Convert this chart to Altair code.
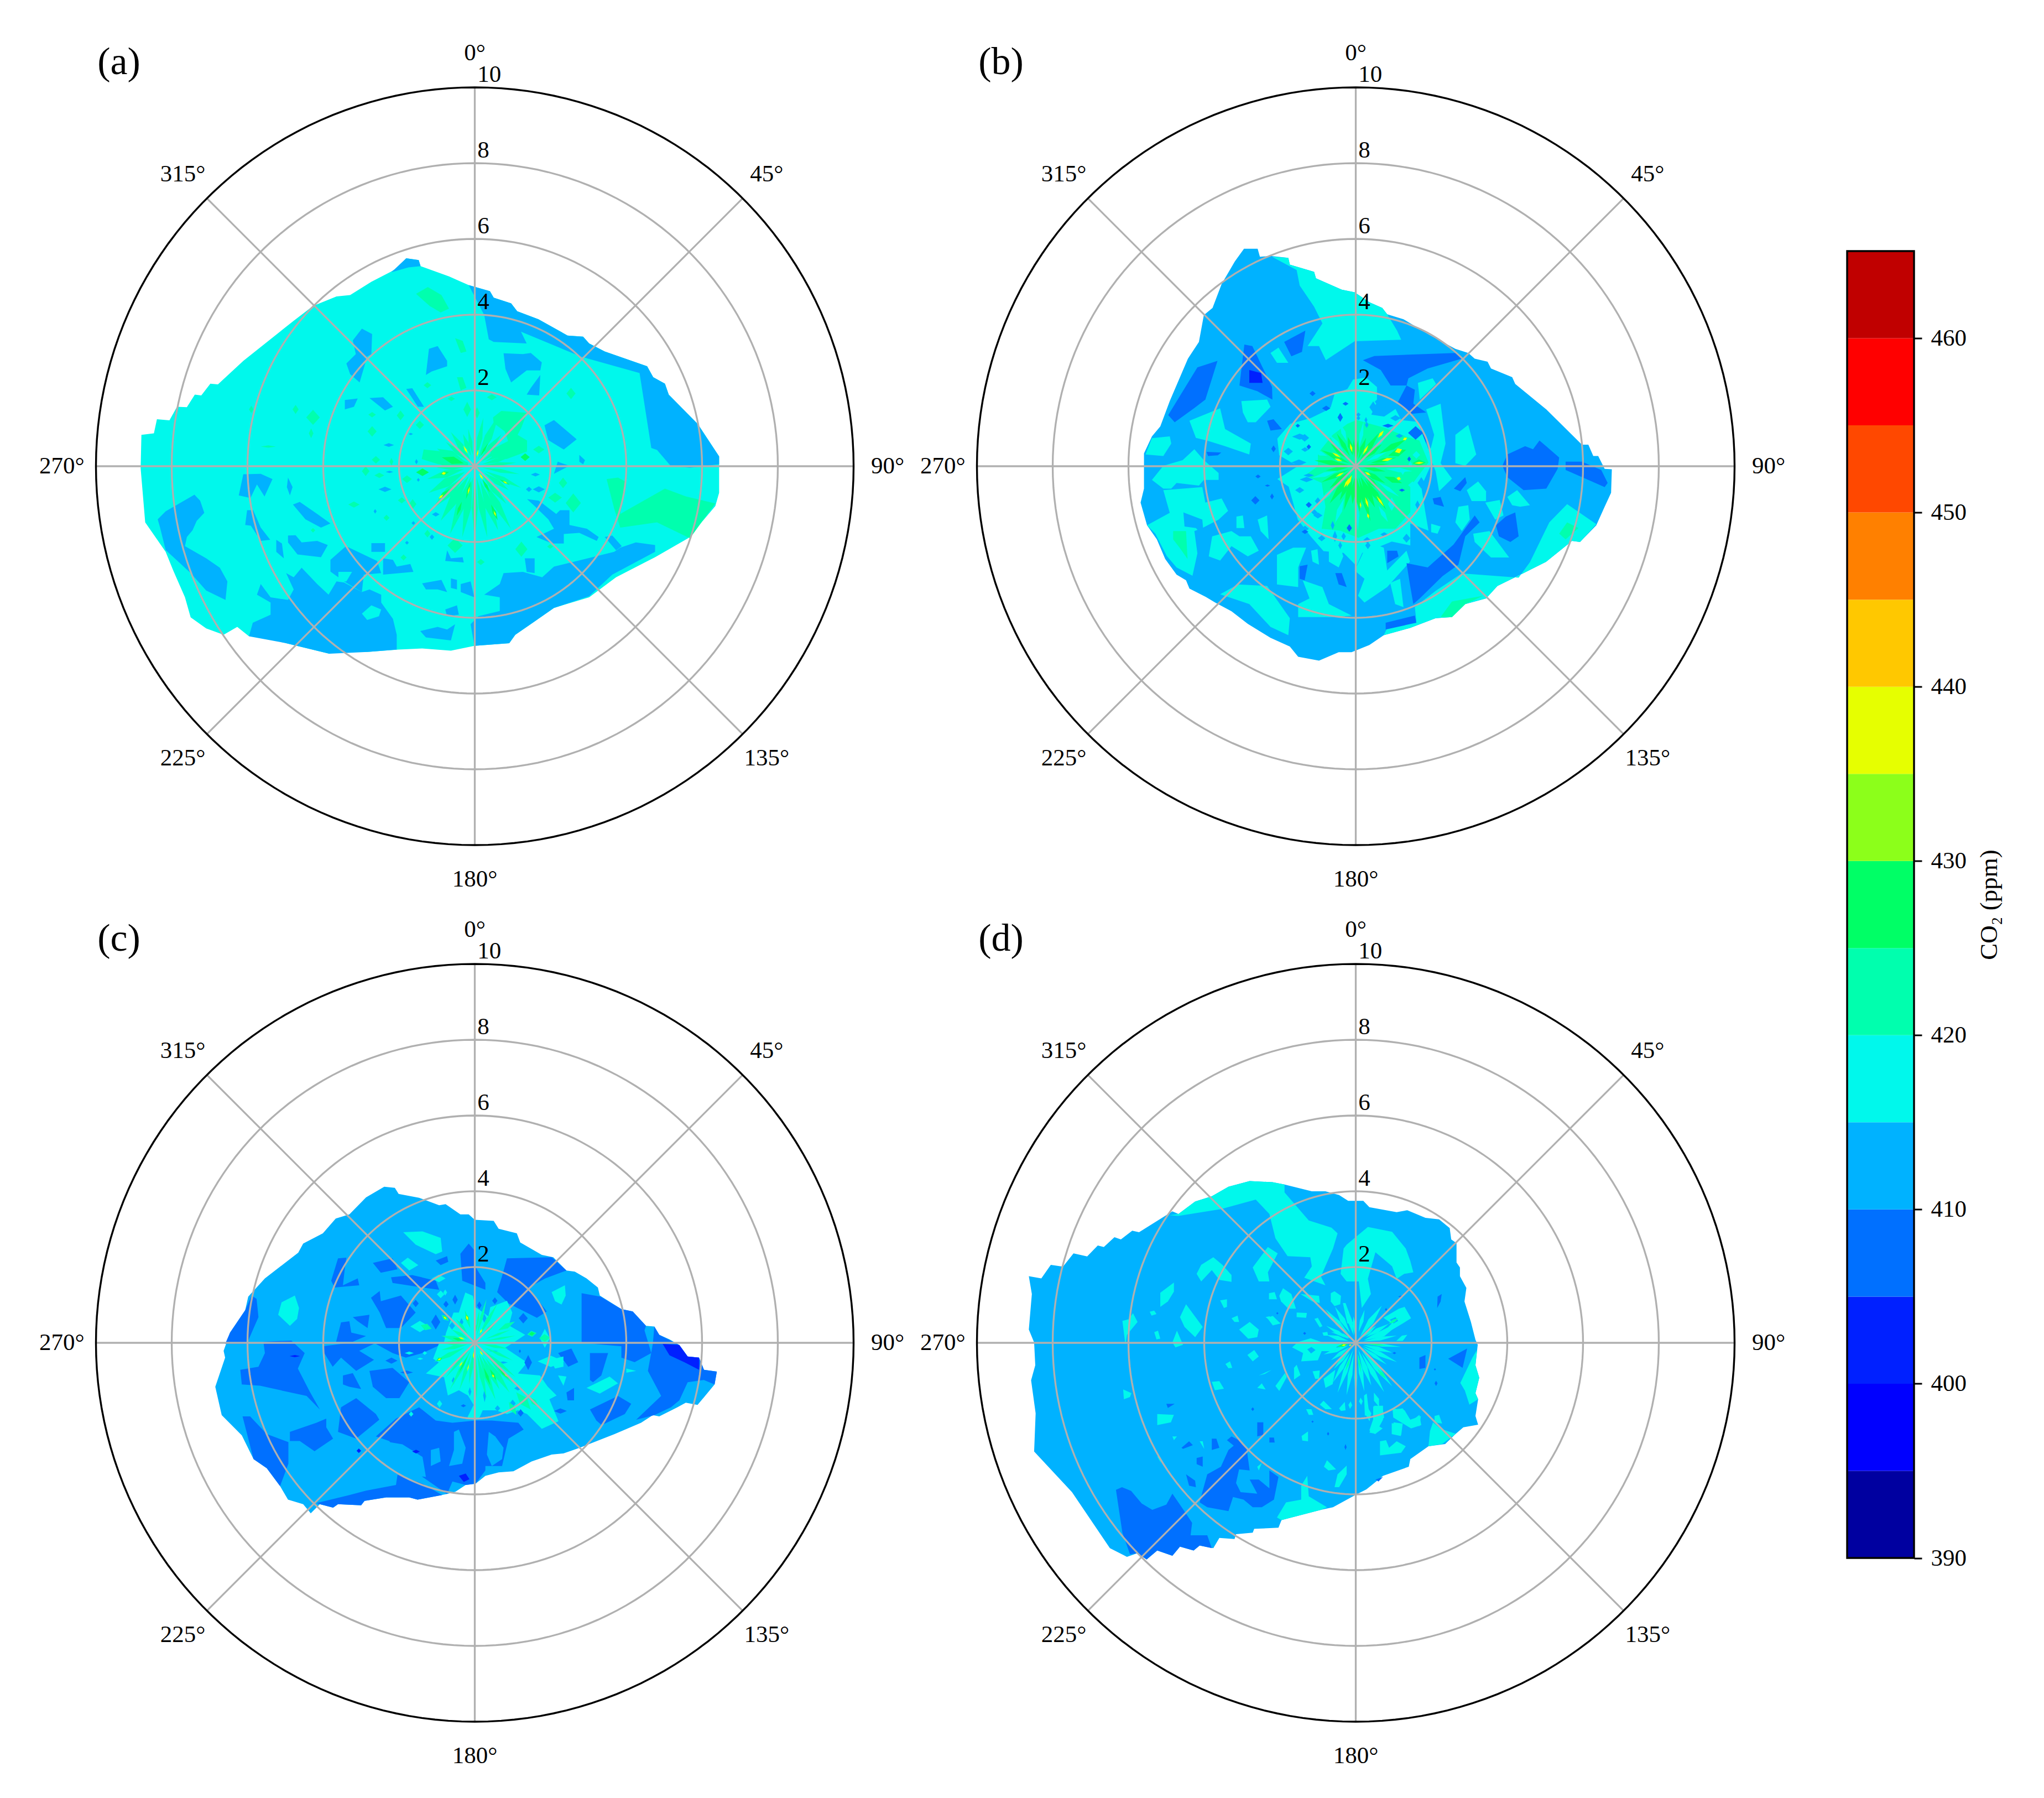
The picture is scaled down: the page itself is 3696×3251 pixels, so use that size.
import math
import altair as alt
import pandas as pd

LEVELS = [390, 395, 400, 405, 410, 415, 420, 425, 430, 435, 440, 445, 450, 455, 460]
COLORS = ["#0000A0", "#0000FF", "#0020FF", "#0070FF", "#00B2FF", "#00F8EC", "#00FFAE", "#00FF66",
          "#8CFF1A", "#E6FF00", "#FFC800", "#FF8000", "#FF4800", "#FF0000", "#C00000"]
CBAR_TICKS = [390, 400, 410, 420, 430, 440, 450, 460]
RINGS = [2, 4, 6, 8]
SPOKES = [0, 45, 90, 135, 180, 225, 270, 315]
FONT = "Liberation Serif"

# ---------- panel (a) ----------
A_OUT = [(-1.81,5.49),(-1.48,5.44),(-1.43,5.28),(-0.68,5.01),(-0.16,4.78),(0.40,4.62),(0.50,4.45),(0.96,4.30),(1.12,4.09),(1.68,3.88),(2.45,3.45),(2.86,3.42),(3.02,3.24),(3.43,3.03),(4.55,2.64),(4.71,2.35),(5.02,2.18),(5.12,1.89),(5.89,1.11),(6.45,0.26),(6.45,-0.70),(6.35,-1.05),(5.63,-1.90),(4.76,-2.40),(3.73,-2.93),(3.02,-3.46),(2.09,-3.74),(1.53,-4.13),(1.07,-4.45),(0.91,-4.67),(-0.01,-4.74),(-0.63,-4.87),(-1.39,-4.81),(-2.01,-4.84),(-2.83,-4.90),(-3.81,-4.88),(-3.84,-4.95),(-4.98,-4.67),(-5.81,-4.38),(-5.96,-4.49),(-6.27,-4.24),(-6.63,-4.45),(-7.09,-4.28),(-7.50,-3.99),(-7.65,-3.46),(-7.96,-2.75),(-8.16,-2.26),(-8.70,-1.48),(-8.82,-0.06),(-8.80,0.83),(-8.47,0.87),(-8.39,1.24),(-8.06,1.21),(-7.86,1.57),(-7.60,1.56),(-7.39,1.89),(-7.22,1.87),(-6.98,2.18),(-6.78,2.16),(-6.11,2.78),(-4.78,3.84),(-4.27,4.23),(-3.65,4.48),(-3.29,4.52),(-2.73,4.87),(-2.22,5.13),(-2.01,5.26)]
A_PATCHES = [
 (410,[(-0.16,4.78),(0.40,4.62),(0.50,4.45),(0.96,4.30),(1.12,4.09),(1.68,3.88),(2.45,3.45),(2.86,3.42),(3.02,3.24),(3.43,3.03),(4.55,2.64),(4.71,2.35),(5.02,2.18),(5.12,1.89),(5.89,1.11),(6.45,0.26),(6.45,0.05),(5.68,-0.04),(5.17,0.01),(4.81,0.43),(4.66,0.48),(4.35,2.46),(2.81,2.89),(1.22,3.55),(1.37,3.24),(0.50,3.28),(0.37,3.35),(0.25,3.99)]),
 (410,[(-1.81,5.49),(-1.48,5.44),(-1.43,5.28),(-1.75,5.25),(-2.2,5.12)]),
 (410,[(4.76,-2.08),(4.25,-2.01),(3.84,-2.15),(3.68,-2.26),(2.09,-2.65),(1.78,-2.93),(1.27,-2.79),(0.76,-2.82),(0.66,-3.11),(0.25,-3.39),(0.66,-3.46),(0.66,-3.82),(0.09,-3.96),(-0.11,-4.17),(-0.01,-4.74),(0.91,-4.67),(1.07,-4.45),(1.53,-4.13),(2.09,-3.74),(3.02,-3.43),(3.63,-2.86),(4.76,-2.26)]),
 (410,[(-5.96,-4.49),(-4.98,-4.67),(-3.84,-4.95),(-2.83,-4.90),(-2.06,-4.84),(-2.06,-4.45),(-2.16,-4.03),(-2.47,-3.60),(-2.47,-3.39),(-2.78,-3.25),(-2.98,-3.32),(-3.45,-3.07),(-3.65,-3.04),(-3.86,-3.39),(-4.16,-3.11),(-4.57,-2.68),(-4.78,-2.93),(-4.98,-2.82),(-4.78,-3.25),(-4.93,-3.53),(-5.39,-3.46),(-5.65,-3.11),(-5.75,-3.39),(-5.39,-3.60),(-5.39,-3.92),(-5.86,-4.13)]),
 (410,[(-3.81,-2.47),(-3.40,-2.11),(-2.58,-2.50),(-2.47,-2.82),(-2.93,-2.86),(-2.98,-3.32),(-3.45,-3.04),(-3.81,-2.78)]),
 (415,[(-3.60,-2.79),(-3.24,-2.79),(-3.39,-3.04),(-3.60,-3.04)]),
 (415,[(-2.98,-3.89),(-2.73,-3.67),(-2.47,-3.78),(-2.53,-3.96),(-2.84,-4.06)]),
 (410,[(-7.40,-0.75),(-7.25,-0.91),(-7.14,-1.23),(-7.34,-1.44),(-7.45,-1.69),(-7.60,-1.87),(-7.65,-2.11),(-7.09,-2.43),(-6.73,-2.68),(-6.53,-3.04),(-6.58,-3.53),(-7.09,-3.28),(-7.50,-2.82),(-8.16,-2.21),(-8.31,-1.61),(-8.37,-1.40),(-8.16,-1.19)]),
 (410,[(-6.11,-0.21),(-5.65,-0.20),(-5.34,-0.34),(-5.55,-0.80),(-5.75,-0.48),(-5.92,-0.84),(-6.23,-0.77)]),
 (410,[(-6.01,-1.16),(-5.85,-1.16),(-5.65,-1.62),(-5.40,-1.94),(-5.65,-1.97),(-5.91,-1.57),(-6.06,-1.55)]),
 (410,[(-4.80,-1.01),(-4.62,-0.94),(-4.16,-1.26),(-3.81,-1.51),(-4.06,-1.62),(-4.47,-1.40)]),
 (410,[(-4.93,-1.83),(-4.73,-1.82),(-4.57,-2.01),(-4.16,-1.97),(-3.88,-2.08),(-4.06,-2.40),(-4.68,-2.33),(-4.93,-2.01)]),
 (410,[(-5.24,-1.94),(-5.09,-2.04),(-5.04,-2.43),(-5.24,-2.26)]),
 (410,[(-4.93,-0.30),(-4.81,-0.55),(-4.88,-0.77),(-4.96,-0.55)]),
 (410,[(-2.42,-2.43),(-2.16,-2.47),(-2.06,-2.65),(-1.70,-2.58),(-1.62,-2.79),(-2.42,-2.86)]),
 (410,[(-2.73,-2.03),(-2.37,-2.03),(-2.37,-2.26),(-2.73,-2.26)]),
 (410,[(-1.39,-3.09),(-0.88,-3.00),(-0.73,-3.32),(-0.98,-3.25),(-1.29,-3.25)]),
 (410,[(-0.63,-2.96),(-0.47,-3.00),(-0.47,-3.25),(-0.63,-3.21)]),
 (410,[(-0.37,-3.11),(-0.11,-3.04),(-0.01,-3.46),(-0.37,-3.32)]),
 (410,[(-1.44,-4.35),(-0.98,-4.24),(-0.73,-4.31),(-0.52,-4.17),(-0.63,-4.60),(-1.29,-4.52)]),
 (410,[(-0.78,-3.78),(-0.47,-3.67),(-0.42,-3.92),(-0.73,-3.96)]),
 (410,[(1.32,-2.43),(1.58,-2.43),(1.58,-2.82),(1.37,-2.79)]),
 (410,[(-0.73,-2.22),(-0.63,-2.43),(-0.32,-2.40),(-0.29,-2.54),(-0.78,-2.50)]),
 (410,[(-2.98,3.63),(-2.71,3.49),(-2.73,2.96),(-2.84,2.89),(-3.04,2.21),(-3.29,2.43),(-3.39,2.71),(-3.14,2.96),(-3.22,3.32)]),
 (410,[(-1.21,3.10),(-0.98,3.17),(-0.73,2.78),(-0.73,2.64),(-1.14,2.50),(-1.29,2.41)]),
 (410,[(0.76,2.98),(1.27,2.96),(1.48,2.99),(1.77,2.74),(1.73,2.53),(1.37,2.53),(0.96,2.21),(0.81,2.57)]),
 (410,[(1.73,2.41),(1.70,1.87),(1.37,1.89),(1.48,2.07)]),
 (410,[(1.84,1.08),(2.09,1.22),(2.69,0.71),(2.35,0.44),(1.94,0.69)]),
 (410,[(-1.81,2.04),(-1.65,2.06),(-1.34,1.57),(-1.50,1.57)]),
 (410,[(-3.43,1.75),(-3.09,1.79),(-3.19,1.57),(-3.43,1.50)]),
 (410,[(-2.78,1.80),(-2.42,1.82),(-2.16,1.57),(-2.37,1.47)]),
 (410,[(2.76,0.30),(2.91,0.16),(2.86,0.05),(2.76,0.12)]),
 (410,[(2.19,0.12),(2.50,0.01),(2.09,-0.20)]),
 (410,[(1.38,-0.87),(1.69,-0.91),(2.15,-1.26),(2.25,-1.16),(2.50,-1.16),(2.50,-1.55),(2.96,-1.65),(3.27,-1.87),(3.22,-1.97),(2.76,-1.76),(2.35,-1.79),(2.35,-2.04),(2.04,-2.04),(1.63,-1.87),(2.09,-1.65),(1.94,-1.40),(1.58,-1.05)]),
 (410,[(3.43,-1.87),(3.63,-1.83),(3.88,-2.11),(3.73,-2.22)]),
 (420,[(3.48,-0.34),(3.78,-0.30),(3.99,-0.41),(3.84,-1.26),(5.02,-0.59),(5.58,-0.80),(6.35,-0.98),(5.68,-1.90),(4.81,-1.48),(3.84,-1.62),(3.68,-1.12)]),
 (420,[(-1.55,4.55),(-1.24,4.73),(-0.88,4.52),(-0.68,4.16),(-0.90,4.06),(-1.19,4.23)]),
 (420,[(-0.52,3.38),(-0.32,3.31),(-0.22,3.03),(-0.37,2.99)]),
 (420,[(-0.47,2.35),(-0.32,2.35),(-0.22,2.07),(-0.37,2.00)]),
 (420,[(0.48,1.29),(0.70,1.46),(1.38,1.41),(1.23,1.02),(1.13,0.83),(1.38,0.68),(1.38,0.39),(0.84,0.19),(0.45,0.24),(0.40,0.44),(0.89,0.63),(0.79,0.92),(0.50,1.14)]),
 (420,[(-1.40,0.19),(-1.35,0.44),(-0.86,0.39),(-0.62,0.29),(-0.18,0.10),(-0.18,0.0),(-0.62,0.02),(-0.96,0.05)]),
]
A_BLOBS = [(-2.27,0.56,.14,.05,410),(-1.69,0.85,.06,.03,410),(-1.54,0.12,.04,.07,410),(-2.25,-0.15,.10,.03,410),(-1.49,-0.36,.04,.05,410),(-2.37,-0.61,.17,.07,410),(-1.03,-1.27,.10,.06,410),(-1.62,-1.50,.05,.05,410),(-1.79,-2.02,.05,.05,410),(-1.13,-1.87,.06,.07,410),(1.60,-0.22,.12,.05,410),(1.43,-0.61,.08,.07,410),(1.69,-0.61,.16,.08,410),(-2.63,-1.19,.04,.06,410),
 (1.69,0.44,.15,.10,420),(1.33,0.24,.12,.10,425),(2.33,-0.44,.11,.14,420),(2.54,1.92,.12,.15,420),(2.12,-0.83,.18,.13,420),(2.60,-0.97,.20,.25,420),(1.23,-2.19,.16,.20,420),(-0.52,-2.09,.20,.20,420),(-2.71,0.92,.12,.14,420),(-2.71,1.36,.10,.07,420),(-1.96,1.34,.10,.13,420),(-1.25,2.14,.10,.08,420),(-0.20,1.50,.10,.20,420),(0.06,1.41,.07,.15,420),(0.45,1.82,.13,.08,420),(-0.62,1.78,.10,.06,420),(-1.45,1.09,.11,.11,420),(-2.61,0.17,.11,.10,420),(-2.20,0.12,.05,.10,420),(-2.52,-0.24,.13,.07,420),(-1.79,-0.34,.13,.10,420),(-1.64,-1.00,.10,.13,420),(-1.93,-0.90,.10,.08,420),(-2.33,-1.36,.08,.08,420),(-1.25,-1.78,.08,.10,420),(-1.88,-2.41,.08,.08,420),(0.16,-2.53,.10,.08,420),(1.99,-2.12,.08,.06,420),(-4.73,1.50,.08,.12,420),(-4.27,1.29,.18,.20,420),(-4.32,0.87,.06,.13,420),(-5.45,0.52,.20,.03,420),(-5.90,1.50,.06,.10,420),(-2.88,-0.13,.10,.13,420),(-3.19,-1.01,.15,.08,420),(-4.27,-1.69,.06,.06,420),
 (-1.38,-0.16,.17,.10,425)]
A_SPIKES = [(10,.2,1.3,.07,420),(25,.2,1.5,.10,420),(40,.2,1.1,.08,420),(55,.2,1.4,.08,420),(65,.3,1.2,.07,420),(75,.2,1.0,.06,420),(85,.2,1.1,.05,420),(100,.2,1.2,.05,420),(115,.3,1.35,.07,420),(125,.3,1.1,.07,420),(140,.3,1.3,.08,420),(150,.4,1.9,.10,420),(160,.4,1.8,.12,420),(170,.3,1.9,.09,420),(180,.2,2.0,.08,420),(190,.3,1.9,.10,420),(200,.3,1.9,.12,420),(212,.3,1.7,.13,420),(225,.3,1.6,.12,420),(240,.3,1.4,.12,420),(255,.3,1.3,.10,420),(268,.2,1.0,.08,420),(280,.2,1.3,.15,420),(295,.3,1.1,.12,420),(310,.2,1.0,.07,420),(325,.2,1.1,.08,420),(340,.3,.9,.07,420),(350,.3,1.0,.05,420),
 (285,.3,.9,.10,425),(30,.3,.7,.03,425),(150,.4,.8,.04,425),(195,.4,.9,.04,425),(200,1.0,1.4,.04,425),(228,.9,1.3,.05,425),(257,.7,.95,.05,425),(157,1.1,1.55,.05,425),(118,.75,1.05,.03,425),
 (331,.38,.62,.025,435),(12,.25,.45,.02,435),(148,.22,.42,.025,435),(118,.84,.98,.02,435),(194,.55,.77,.02,435),(228,1.12,1.28,.03,435),(257,.78,.9,.04,435),(157,1.28,1.44,.02,435)]

# ---------- panel (b) ----------
B_OUT = [(-2.95,5.74),(-2.59,5.74),(-2.53,5.53),(-2.25,5.55),(-1.78,5.50),(-1.74,5.32),(-1.10,5.13),(-1.05,4.96),(-0.37,4.66),(-0.03,4.59),(0.36,4.33),(0.70,4.18),(0.83,4.01),(1.26,3.88),(1.94,3.47),(2.63,3.10),(2.97,2.99),(3.14,2.84),(3.48,2.76),(3.57,2.58),(4.13,2.35),(4.21,2.17),(5.03,1.50),(5.97,0.57),(6.14,0.57),(6.27,0.27),(6.40,0.27),(6.57,-0.07),(6.76,-0.08),(6.74,-0.70),(6.57,-1.07),(6.35,-1.56),(5.92,-2.00),(5.71,-1.97),(5.03,-2.52),(4.43,-2.82),(3.74,-3.16),(3.44,-3.49),(2.89,-3.64),(2.54,-3.98),(2.11,-4.01),(1.43,-4.27),(0.74,-4.46),(0.36,-4.72),(-0.11,-4.91),(-0.45,-4.91),(-0.97,-5.13),(-1.52,-5.03),(-1.74,-4.76),(-2.25,-4.53),(-2.85,-4.16),(-3.28,-3.83),(-3.71,-3.60),(-3.96,-3.45),(-4.39,-3.23),(-4.48,-3.01),(-4.73,-2.86),(-5.03,-2.45),(-5.25,-1.93),(-5.51,-1.56),(-5.68,-0.96),(-5.59,-0.59),(-5.59,0.34),(-5.38,0.79),(-5.16,1.05),(-4.91,1.72),(-4.43,2.84),(-4.14,3.28),(-4.01,3.99),(-3.78,4.18),(-3.54,4.81),(-3.19,5.41)]
B_PATCHES = [
 (415,[(-2.21,5.53),(-1.78,5.50),(-1.74,5.32),(-1.10,5.13),(-1.05,4.96),(-0.37,4.66),(-0.03,4.59),(0.36,4.33),(0.70,4.18),(0.83,4.01),(1.09,3.58),(1.20,3.34),(-0.03,3.30),(-0.79,2.80),(-0.97,3.17),(-1.27,3.17),(-0.88,3.77),(-1.10,4.21),(-1.48,4.77),(-1.56,5.18)]),
 (415,[(2.80,-2.83),(4.30,-2.94),(4.60,-2.53),(5.11,-1.48),(5.58,-1.00),(6.35,-1.53),(5.92,-2.00),(5.71,-1.97),(5.03,-2.52),(4.43,-2.82),(3.74,-3.16),(3.44,-3.49),(2.89,-3.64),(2.54,-3.98),(2.11,-4.01),(1.43,-4.27),(0.74,-4.46),(0.83,-4.27),(1.60,-4.09),(1.56,-3.72),(2.11,-3.29)]),
 (420,[(2.24,-3.98),(2.54,-3.57),(3.36,-3.42),(2.89,-3.64),(2.54,-3.98)]),
 (420,[(5.37,-1.78),(5.58,-1.48),(5.88,-1.63),(5.54,-1.93)]),
 (415,[(-5.55,0.31),(-5.38,0.74),(-4.91,0.79),(-4.87,0.60),(-5.08,0.27)]),
 (415,[(-5.38,-0.36),(-5.08,0.01),(-4.57,0.16),(-4.26,0.45),(-4.01,0.16),(-3.62,-0.18),(-3.62,-0.36),(-4.01,-0.36),(-4.14,-0.51),(-4.73,-0.44),(-4.87,-0.59),(-5.08,-0.59)]),
 (415,[(-5.08,-0.63),(-4.05,-0.55),(-3.97,-0.96),(-3.54,-0.85),(-3.37,-1.18),(-3.62,-1.41),(-4.05,-1.63),(-4.26,-1.71),(-4.18,-2.30),(-4.31,-2.89),(-4.73,-2.67),(-4.99,-2.37),(-5.29,-1.78),(-5.51,-1.56),(-4.91,-1.23)]),
 (410,[(-4.55,-1.22),(-4.05,-1.41),(-4.01,-1.86),(-4.22,-1.63),(-4.52,-1.59)]),
 (420,[(-4.82,-1.71),(-4.48,-1.71),(-4.44,-2.45),(-4.65,-2.15),(-4.82,-1.93)]),
 (415,[(-4.39,1.20),(-3.58,1.53),(-3.45,0.98),(-2.77,0.60),(-2.81,0.31),(-3.45,0.53),(-3.93,0.68),(-4.22,0.75)]),
 (415,[(-3.02,1.72),(-2.34,1.76),(-2.25,1.57),(-2.64,1.16),(-2.85,1.16),(-2.98,1.42)]),
 (415,[(-2.25,2.99),(-2.04,3.13),(-1.78,2.73),(-2.08,2.73)]),
 (415,[(-3.88,-2.38),(-3.79,-1.85),(-3.28,-1.71),(-3.07,-1.85),(-2.77,-1.85),(-2.56,-2.23),(-2.85,-2.38),(-3.28,-2.11),(-3.58,-2.49)]),
 (415,[(-2.59,-1.41),(-2.34,-1.30),(-2.30,-1.93),(-2.51,-1.71)]),
 (415,[(-3.15,-1.33),(-2.98,-1.30),(-2.94,-1.63),(-3.15,-1.63)]),
 (415,[(-3.11,-3.12),(-2.34,-3.16),(-1.74,-4.01),(-1.78,-4.46),(-2.25,-4.24),(-2.81,-3.64),(-3.58,-3.38)]),
 (415,[(-2.08,-2.34),(-1.65,-2.15),(-1.31,-2.15),(-1.52,-2.67),(-1.52,-3.19),(-2.08,-3.12)]),
 (415,[(-1.40,-3.01),(-0.88,-3.19),(-0.71,-3.64),(-0.11,-3.94),(-0.54,-3.98),(-1.52,-3.98),(-1.52,-3.64),(-1.22,-3.49)]),
 (415,[(0.15,-2.38),(0.32,-1.99),(0.74,-2.15),(0.83,-2.75),(1.34,-2.23),(1.43,-2.52),(0.83,-3.19),(0.23,-3.60),(0.06,-3.42),(0.23,-2.97),(-0.03,-2.75)]),
 (415,[(0.91,-3.08),(1.17,-2.97),(1.26,-3.72),(1.04,-3.64)]),
 (415,[(-0.71,-2.15),(-0.45,-2.00),(-0.33,-2.38),(-0.45,-2.67),(-0.71,-2.52)]),
 (415,[(-1.18,-2.23),(-1.01,-2.19),(-0.97,-2.60),(-1.14,-2.52)]),
 (415,[(1.86,1.50),(2.24,1.65),(2.37,0.60),(2.24,0.08),(2.54,-0.33),(2.20,-0.66),(2.11,-0.14),(1.94,0.31),(2.07,0.83)]),
 (415,[(2.63,0.83),(2.97,1.09),(3.18,0.31),(2.89,0.01),(2.63,0.08),(2.63,0.68)]),
 (415,[(1.64,2.20),(2.03,2.32),(2.12,2.17),(1.69,1.76)]),
 (415,[(2.93,-0.63),(3.23,-0.40),(3.44,-0.66),(3.44,-0.92),(3.06,-0.92)]),
 (415,[(4.00,-0.81),(4.26,-0.63),(4.60,-1.03),(4.34,-1.07),(4.13,-1.03)]),
 (415,[(3.42,-0.96),(3.80,-0.89),(3.90,-1.30),(3.68,-1.41)]),
 (415,[(2.71,-1.07),(2.97,-1.03),(3.01,-1.41),(2.80,-1.71),(2.63,-1.48)]),
 (415,[(3.10,-1.78),(3.53,-1.71),(4.05,-2.41),(3.57,-2.41),(3.14,-2.00)]),
 (415,[(1.99,-1.52),(2.24,-1.59),(2.16,-1.78),(1.99,-1.74)]),
 (405,[(-4.18,2.61),(-3.65,2.78),(-3.97,1.76),(-4.27,1.53),(-4.78,1.16),(-4.95,1.35)]),
 (405,[(-2.94,3.21),(-2.73,3.17),(-2.21,2.09),(-2.20,1.76),(-2.60,1.98),(-3.07,2.13)]),
 (400,[(-2.81,2.54),(-2.50,2.46),(-2.46,2.20),(-2.81,2.20)]),
 (405,[(-1.89,3.28),(-1.33,3.58),(-1.42,3.02),(-1.70,2.90)]),
 (405,[(0.19,2.80),(0.49,2.91),(2.63,2.99),(2.80,2.84),(1.90,2.58),(1.39,2.32),(1.34,2.13),(0.92,2.13),(0.66,2.54)]),
 (405,[(1.34,2.13),(1.56,2.02),(1.52,1.65),(1.86,1.42),(1.43,1.38),(1.09,1.65)]),
 (405,[(1.43,0.90),(1.60,1.05),(1.86,0.75),(1.86,0.53),(1.52,0.68)]),
 (405,[(4.00,0.31),(4.47,0.53),(4.68,0.45),(4.85,0.68),(5.37,0.23),(5.33,-0.07),(5.03,-0.59),(4.43,-0.63),(4.00,-0.29),(3.87,0.01)]),
 (405,[(5.54,0.12),(5.97,0.12),(6.48,-0.10),(6.65,-0.44),(6.57,-0.55),(6.14,-0.36),(5.54,-0.10)]),
 (405,[(3.96,-1.33),(4.21,-1.22),(4.30,-1.85),(4.08,-2.00),(3.78,-1.85),(3.70,-1.56)]),
 (405,[(1.34,-2.56),(1.90,-2.67),(2.58,-2.07),(3.14,-1.30),(3.27,-1.48),(2.89,-1.85),(2.71,-2.60),(2.29,-2.90),(1.69,-3.49),(1.52,-3.64),(1.43,-3.12)]),
 (405,[(0.79,-4.13),(1.56,-3.94),(1.60,-4.13),(0.79,-4.31)]),
 (405,[(2.59,-0.59),(2.89,-0.29),(2.93,-0.44),(2.76,-0.66)]),
 (405,[(2.03,-0.85),(2.24,-0.81),(2.33,-1.07),(2.07,-1.00)]),
 (405,[(0.83,-2.23),(1.09,-2.23),(1.13,-2.38),(0.83,-2.56)]),
 (405,[(-0.54,-2.82),(-0.37,-2.82),(-0.24,-3.19),(-0.45,-3.12)]),
 (405,[(-1.48,-2.64),(-1.27,-2.60),(-1.35,-3.01),(-1.48,-2.97)]),
 (405,[(-2.34,1.20),(-2.17,1.24),(-1.95,0.98),(-2.25,0.94)]),
 (405,[(-3.94,0.38),(-3.55,0.36),(-3.64,0.29),(-3.90,0.27)]),
 (415,[(-0.22,2.04),(-0.07,2.29),(0.27,2.34),(0.56,2.09),(0.56,1.70),(0.41,1.36),(0.75,1.31),(1.05,1.51),(1.20,1.22),(1.63,1.17),(1.92,0.44),(2.07,0.54),(1.97,0.0),(1.73,-0.54),(1.83,-1.17),(1.92,-1.70),(1.44,-1.51),(1.44,-2.09),(0.95,-1.99),(0.46,-2.19),(0.17,-2.29),(0.02,-2.63),(-0.32,-2.29),(-0.85,-2.24),(-1.19,-1.85),(-1.53,-1.41),(-1.77,-0.54),(-2.07,-0.34),(-1.53,0.0),(-2.02,0.29),(-2.07,0.73),(-1.73,1.12),(-1.19,1.27),(-0.80,1.46),(-0.66,1.56),(-0.56,1.90)]),
 (420,[(-1.00,0.34),(-0.61,0.83),(-0.22,1.12),(0.02,1.22),(0.75,1.02),(1.34,0.78),(1.68,0.68),(1.92,0.10),(1.73,-0.15),(1.44,-0.54),(1.44,-1.22),(1.05,-1.65),(0.61,-1.65),(0.07,-1.89),(-0.41,-1.70),(-0.90,-1.65),(-0.80,-1.07),(-0.90,-0.44),(-1.34,-0.24),(-1.00,0.0)]),
]
B_BLOBS = [(-1.35,0.75,.12,.10,410),(-1.50,0.10,.20,.08,410),(-1.30,-0.35,.18,.07,410),(-1.00,-1.30,.12,.08,410),(0.95,-1.00,.10,.18,415),(1.50,-0.50,.12,.10,415),(0.60,1.70,.10,.10,410),(0.30,-1.95,.10,.08,410),(-0.55,-1.85,.06,.15,410),(1.60,0.30,.10,.10,415),(1.15,0.80,.10,.06,410),
 (-1.48,0.78,.20,.08,410),(-1.78,0.39,.12,.10,410),(-1.34,0.44,.10,.06,410),(-1.53,0.05,.15,.03,410),(-1.24,-0.24,.14,.05,410),(-1.48,-0.63,.12,.08,410),(-1.00,-0.92,.08,.10,410),(-1.09,-1.22,.08,.08,410),(-0.61,-1.56,.05,.12,410),(-0.32,-1.85,.06,.10,410),(1.05,1.27,.14,.08,410),(0.46,1.56,.10,.15,410),(0.75,1.51,.08,.10,410),(0.07,1.27,.05,.06,410),(0.27,1.22,.04,.08,410),(1.24,-0.15,.05,.08,415),(1.44,0.05,.05,.08,415),(1.73,-0.44,.10,.15,410),(1.63,-1.02,.06,.12,410),(0.75,-1.80,.10,.06,410),(1.34,-1.90,.10,.12,410),(0.32,-2.09,.07,.10,410),(-0.41,-2.09,.05,.10,410),(-0.90,-1.90,.10,.08,410),(-1.34,-1.65,.10,.08,410),(-1.73,-1.17,.10,.20,410),(-1.97,-0.78,.06,.08,410),
 (-0.78,1.53,.11,.07,405),(-0.27,1.65,.08,.05,405),(-0.41,1.29,.07,.12,405),(-1.14,1.92,.08,.07,405),(-2.17,1.09,.13,.08,405),(0.85,1.07,.15,.05,405),(1.58,0.88,.20,.18,405),(-2.17,0.46,.06,.09,405),(-1.24,0.51,.06,.07,405),(-1.53,1.07,.06,.05,405),(-1.24,-1.02,.08,.08,405),(-2.65,-0.90,.11,.11,405),(-2.21,-0.80,.05,.08,405),(-2.33,-0.51,.07,.03,405),(-2.58,-0.27,.07,.05,405),(-1.34,-1.73,.09,.06,405),(-0.17,-1.63,.07,.10,405),(1.22,-0.63,.08,.04,405),(1.41,0.19,.05,.07,405),(0.07,1.36,.06,.06,410),(0.29,1.09,.05,.08,410)]
B_SPIKES = [(10,.5,1.2,.05,415),(45,.6,1.2,.05,415),(65,.3,.9,.05,415),(95,.8,1.5,.06,415),(125,.7,1.4,.05,415),(150,1.2,1.7,.06,415),(178,.9,1.7,.05,415),(200,.9,1.6,.07,415),(225,.7,1.4,.06,415),(255,.5,1.2,.06,415),(290,.8,1.2,.06,415),(320,.5,1.1,.06,415),(340,.7,1.2,.06,415),
 (5,.15,.7,.05,425),(20,.2,.8,.06,425),(35,.2,1.1,.07,425),(50,.3,.9,.06,425),(62,.7,1.5,.08,425),(72,.9,1.4,.10,425),(78,.4,1.1,.06,425),(86,.2,.9,.04,425),(100,.2,.8,.05,425),(110,.8,1.3,.08,425),(120,.2,.9,.07,425),(135,.3,.9,.07,425),(145,.4,1.4,.08,425),(155,.3,1.2,.10,425),(165,.3,1.5,.08,425),(175,.3,1.2,.10,425),(185,.3,1.0,.08,425),(195,.3,1.2,.07,425),(205,.2,1.0,.08,425),(215,.3,1.2,.08,425),(230,.2,.9,.07,425),(245,.2,1.0,.06,425),(262,.2,.8,.05,425),(278,.2,1.1,.07,425),(295,.2,1.0,.07,425),(312,.3,.9,.07,425),(330,.3,1.0,.06,425),(345,.3,.8,.07,425),(355,.2,.7,.04,425),(87,1.5,1.85,.09,425),
 (70,1.1,1.3,.07,435),(61,1.42,1.55,.04,435),(38,.95,1.2,.04,435),(78,.7,1.0,.04,435),(346,.38,.62,.03,435),(31,.35,.65,.03,435),(300,.45,.72,.03,435),(290,.38,.6,.03,435),(204,.25,.6,.04,435),(209,.35,.65,.03,435),(242,.35,.6,.03,435),(122,.28,.47,.03,435),(145,.95,1.3,.03,435),(163,.85,1.15,.03,435),(166,1.28,1.42,.03,435),(173,.95,1.12,.02,435),(87,1.55,1.8,.03,435),(106,1.12,1.24,.05,435)]

# ---------- panel (c) ----------
C_OUT = [(-2.39,4.12),(-2.11,4.09),(-2.01,3.93),(-1.47,3.83),(-0.94,3.63),(-0.77,3.66),(-0.38,3.39),(-0.16,3.39),(0.0,3.25),(0.50,3.22),(0.63,3.01),(1.11,2.89),(1.20,2.65),(1.77,2.32),(2.07,2.26),(2.42,1.91),(2.64,1.88),(2.95,1.70),(3.25,1.46),(3.30,1.25),(3.87,0.89),(4.17,0.83),(4.52,0.45),(4.74,0.43),(4.87,0.21),(5.14,0.09),(5.40,-0.06),(5.62,-0.36),(5.92,-0.39),(6.05,-0.71),(6.39,-0.76),(6.33,-1.10),(5.88,-1.64),(5.57,-1.58),(5.35,-1.70),(4.87,-1.94),(4.70,-1.91),(4.39,-2.11),(3.69,-2.41),(2.77,-2.77),(2.34,-2.92),(2.03,-2.95),(1.50,-3.13),(1.02,-3.39),(0.63,-3.42),(0.28,-3.51),(0.02,-3.72),(-0.24,-3.75),(-0.51,-3.93),(-0.73,-3.99),(-1.51,-4.14),(-1.73,-4.08),(-2.34,-4.08),(-2.91,-4.17),(-3.00,-4.29),(-3.61,-4.26),(-3.74,-4.35),(-4.09,-4.26),(-4.33,-4.50),(-4.53,-4.26),(-4.93,-4.14),(-5.14,-3.78),(-5.49,-3.31),(-5.84,-3.07),(-6.15,-2.44),(-6.68,-1.91),(-6.85,-1.16),(-6.59,-0.39),(-6.63,-0.21),(-6.46,0.27),(-6.06,0.86),(-5.98,1.22),(-5.54,1.70),(-4.66,2.38),(-4.53,2.62),(-4.01,2.89),(-3.67,3.28),(-3.31,3.39),(-2.87,3.84)]
C_PATCHES = [
 (405,[(2.82,1.31),(3.32,1.22),(3.87,0.89),(4.17,0.83),(4.52,0.45),(4.48,0.33),(4.66,-0.27),(4.22,-0.51),(3.87,-0.39),(3.87,-0.09),(2.82,0.0),(2.82,0.21)]),
 (405,[(4.74,0.43),(4.87,0.21),(5.40,-0.06),(5.62,-0.36),(5.92,-0.39),(6.05,-0.71),(6.39,-0.76),(6.33,-1.10),(6.05,-0.98),(5.62,-1.04),(5.40,-1.52),(5.18,-1.70),(4.74,-1.91),(4.26,-2.03),(4.92,-1.40),(4.57,-0.74),(4.70,-0.03)]),
 (400,[(4.96,-0.03),(5.40,-0.06),(5.62,-0.36),(5.92,-0.39),(5.92,-0.71),(5.53,-0.51),(5.14,-0.33)]),
 (405,[(0.85,2.23),(2.03,2.26),(2.42,1.91),(1.86,1.70),(1.42,1.46),(1.90,0.83),(1.64,0.66),(0.89,1.04),(0.59,1.34),(0.72,1.76)]),
 (405,[(-0.16,2.62),(0.02,2.41),(0.02,2.00),(0.28,1.58),(0.28,1.40),(-0.33,1.64),(-0.38,2.35)]),
 (405,[(-3.61,2.23),(-3.39,2.25),(-3.44,1.88),(-3.48,1.52),(-3.09,1.70),(-3.05,1.52),(-3.39,1.49),(-3.70,1.46),(-3.79,1.64)]),
 (405,[(-2.69,2.11),(-2.17,2.23),(-2.04,1.94),(-2.48,1.85)]),
 (405,[(-2.21,1.73),(-1.65,1.79),(-1.03,1.64),(-0.94,1.40),(-1.38,1.46),(-2.17,1.58)]),
 (405,[(-1.03,2.17),(-0.73,2.29),(-0.70,2.14),(-0.90,2.05)]),
 (405,[(-2.74,1.19),(-2.51,1.37),(-2.48,1.10),(-1.95,1.25),(-1.56,0.80),(-1.95,0.39),(-2.34,0.39),(-2.51,0.80)]),
 (405,[(-3.53,0.54),(-3.31,0.57),(-3.26,0.27),(-2.87,0.18),(-3.22,0.03),(-3.66,0.03)]),
 (405,[(-3.22,0.68),(-2.78,0.74),(-2.83,0.39),(-3.09,0.57)]),
 (405,[(-5.58,0.03),(-4.84,0.06),(-4.49,-0.27),(-4.67,-0.68),(-4.36,-1.28),(-4.09,-1.76),(-4.44,-1.40),(-5.00,-1.28),(-5.67,-1.13),(-6.15,-1.10),(-6.19,-0.71),(-5.71,-0.63),(-5.54,-0.27)]),
 (405,[(-4.01,-0.09),(-3.31,0.0),(-2.61,0.0),(-3.05,-0.21),(-2.66,-0.45),(-3.13,-0.74),(-3.53,-0.39),(-3.75,-0.63),(-4.01,-0.21)]),
 (405,[(-2.61,-0.03),(-1.56,-0.03),(-0.86,-0.03),(-1.38,-0.27),(-1.82,-0.39),(-2.17,-0.27)]),
 (405,[(-2.78,-0.74),(-2.17,-0.66),(-1.73,-1.04),(-1.99,-1.46),(-2.34,-1.46),(-2.69,-1.16)]),
 (405,[(-3.48,-0.86),(-3.22,-0.80),(-3.00,-1.22),(-3.31,-1.16),(-3.48,-1.10)]),
 (405,[(-3.53,-1.70),(-3.13,-1.46),(-2.61,-1.88),(-2.52,-2.03),(-3.13,-2.53),(-3.61,-2.35)]),
 (405,[(-4.88,-2.35),(-4.18,-2.11),(-3.92,-2.00),(-3.92,-2.23),(-3.74,-2.53),(-4.23,-2.86),(-4.62,-2.59),(-4.88,-2.59)]),
 (405,[(-6.13,-1.94),(-5.93,-1.94),(-5.49,-2.41),(-4.92,-2.62),(-4.92,-3.19),(-5.14,-3.78),(-5.49,-3.31),(-5.84,-3.07)]),
 (405,[(-5.89,1.25),(-5.76,1.16),(-5.71,0.68),(-6.02,-0.03),(-6.59,-0.03),(-6.46,0.27),(-6.06,0.86)]),
 (405,[(-4.18,-4.23),(-3.31,-4.02),(-2.87,-3.90),(-2.08,-3.75),(-2.04,-3.48),(-1.38,-3.72),(-0.86,-4.02),(-1.51,-4.14),(-1.73,-4.08),(-2.34,-4.08),(-2.91,-4.17),(-3.00,-4.29),(-3.61,-4.26),(-3.74,-4.35),(-4.09,-4.26)]),
 (405,[(-2.61,-2.47),(-2.08,-2.00),(-1.47,-1.70),(-1.03,-2.05),(-0.59,-2.11),(0.02,-2.05),(0.45,-2.05),(1.15,-2.11),(1.29,-2.29),(0.89,-2.53),(0.72,-3.25),(0.28,-3.25),(0.28,-3.37),(0.02,-3.72),(-0.24,-3.75),(-0.59,-3.66),(-0.73,-3.99),(-1.38,-3.54),(-1.91,-3.01),(-2.26,-2.59)]),
 (410,[(-2.43,-2.59),(-1.91,-2.68),(-1.38,-3.01),(-1.29,-3.54),(-1.73,-3.48),(-2.08,-3.19),(-2.43,-2.89)]),
 (410,[(-0.55,-2.35),(-0.42,-2.29),(-0.24,-2.77),(-0.33,-3.19),(-0.68,-3.25),(-0.55,-2.83)]),
 (410,[(0.37,-2.35),(0.54,-2.47),(0.76,-2.77),(0.72,-3.07),(0.45,-3.25),(0.32,-2.95)]),
 (410,[(-1.16,-2.83),(-0.94,-2.77),(-0.90,-3.13),(-1.16,-3.25)]),
 (400,[(-0.42,-3.51),(-0.24,-3.45),(-0.14,-3.60),(-0.29,-3.67)]),
 (405,[(3.04,-1.76),(3.78,-1.40),(4.13,-1.61),(3.96,-1.88),(3.35,-2.17),(3.21,-2.05)]),
 (405,[(2.42,-1.31),(2.62,-1.19),(2.62,-1.52),(2.45,-1.52)]),
 (405,[(3.04,-0.27),(3.52,-0.27),(3.34,-0.86),(3.12,-1.04),(3.04,-0.98)]),
 (405,[(2.20,-0.27),(2.55,-0.15),(2.73,-0.51),(2.47,-0.63)]),
 (415,[(-1.89,2.92),(-1.38,2.94),(-0.90,2.77),(-0.86,2.41),(-1.03,2.34),(-1.56,2.59)]),
 (415,[(-5.19,0.74),(-5.10,1.07),(-4.75,1.25),(-4.64,0.92),(-4.69,0.63),(-4.88,0.45)]),
 (415,[(-1.95,2.11),(-1.77,2.25),(-1.49,2.05),(-1.73,1.91)]),
 (415,[(2.03,1.34),(2.38,1.52),(2.40,1.25),(2.29,1.01),(2.12,1.10)]),
 (415,[(2.95,-1.19),(3.56,-0.89),(3.78,-1.07),(3.30,-1.34)]),
 (415,[(4.00,-0.68),(4.26,-0.74),(4.00,-0.79)]),
 (415,[(1.99,-0.45),(2.34,-0.36),(2.34,-0.63),(2.12,-0.68)]),
 (415,[(2.20,-0.86),(2.42,-0.89),(2.34,-1.13)]),
 (415,[(-0.81,0.02),(-0.76,0.26),(-0.56,0.80),(-0.42,0.80),(-0.25,1.33),(-0.05,1.24),(0.02,0.94),(0.36,0.70),(0.41,0.94),(0.85,1.11),(0.99,0.80),(0.90,0.46),(1.33,0.21),(1.04,0.02),(0.80,-0.13),(1.38,-0.52),(1.14,-0.81),(1.72,-0.86),(1.92,-1.15),(2.16,-1.39),(1.97,-1.49),(2.21,-2.07),(1.77,-2.27),(1.38,-1.88),(1.14,-1.78),(0.85,-1.88),(0.55,-1.78),(0.21,-1.78),(0.12,-1.98),(-0.22,-2.02),(-0.03,-1.64),(-0.18,-1.39),(-0.42,-1.25),(-0.71,-1.39),(-0.81,-0.91),(-1.29,-0.81),(-0.95,-0.52),(-1.10,-0.42),(-0.95,-0.03)]),
]
C_BLOBS = [(-1.45,0.43,.25,.15,415),(1.85,0.12,.13,.25,415),(2.01,-0.49,.35,.15,415),(-1.73,-0.27,.12,.04,415),(-1.32,-0.27,.06,.05,415),(-1.44,-0.42,.08,.03,415),(-0.93,-1.61,.07,.10,415),(-1.68,-1.88,.06,.07,415),(-0.90,1.28,.10,.10,415),(-0.95,1.70,.18,.10,415),(-0.78,1.33,.05,.08,415),
 (0.26,-1.39,.04,.18,410),(0.60,-1.73,.07,.08,410),(0.50,-0.22,.12,.02,410),(0.75,-0.52,.12,.03,410),(-0.56,-1.00,.05,.10,410),(1.14,-1.20,.10,.06,410),(1.14,0.70,.08,.10,410),(-0.60,0.45,.08,.10,410),(0.25,0.65,.06,.12,410),(-0.35,0.55,.05,.10,410),(1.00,-1.60,.08,.10,410),
 (-0.52,1.14,.07,.13,405),(-0.76,1.02,.07,.09,405),(-1.56,1.04,.08,.10,405),(-1.03,0.55,.12,.20,405),(1.28,0.65,.12,.14,405),(0.53,1.11,.07,.09,405),(0.12,0.99,.06,.10,405),(1.19,-0.22,.03,.05,405),(1.41,-0.52,.10,.20,405),(1.21,-1.85,.08,.10,405),(2.26,-1.80,.17,.07,405),(-1.49,-2.07,.04,.04,405),(-0.30,-1.66,.07,.04,405),(-0.13,-1.29,.04,.12,410),(-1.80,-0.78,.17,.05,405),(-2.2,-0.47,.16,.08,405),(-4.75,-0.35,.14,.03,400),(-3.06,-2.85,.06,.06,400),(-1.55,-2.87,.1,.05,400)]
C_SPIKES = [(15,.2,1.2,.04,420),(30,.2,1.2,.05,420),(45,.2,.9,.05,420),(62,.7,1.2,.07,420),(8,.3,.9,.03,420),(70,.3,1.0,.03,420),(80,.3,1.1,.03,420),(81,1.4,1.65,.08,420),(86,1.7,2.0,.10,420),(100,.2,.9,.04,420),(115,.3,1.1,.04,420),(130,.3,1.4,.05,420),(137,.5,1.5,.06,420),(145,.5,1.6,.08,420),(152,.4,1.4,.08,420),(160,.3,1.6,.08,420),(168,.3,1.5,.06,420),(178,.2,1.5,.05,420),(188,.2,1.1,.05,420),(198,.3,1.3,.05,420),(208,.2,1.4,.05,420),(220,.2,1.2,.04,420),(245,.3,1.2,.06,420),(258,.2,.9,.05,420),(270,.2,.9,.07,420),(282,.2,.9,.07,420),(288,1.2,1.5,.09,420),(300,.2,.7,.05,420),(310,.9,1.15,.06,420),(322,.3,.8,.04,420),(343,.4,.9,.05,420),(5,.3,.5,.03,420),(140,1.7,2.3,.12,420),(150,1.8,2.2,.08,420),(135,2.0,2.4,.07,420),
 (137,.9,1.3,.03,425),(150,.8,1.15,.04,425),(160,.7,1.2,.04,425),(208,.4,.9,.025,425),(282,.3,.6,.04,425),(81,1.45,1.6,.05,425),(310,.95,1.1,.04,425),(245,.95,1.12,.05,425),(343,.6,.78,.05,425),
 (289,.28,.46,.025,435),(343,.62,.76,.03,435),(310,.97,1.08,.025,435),(245,.98,1.08,.025,435),(147,.24,.4,.02,435),(185,.22,.42,.02,435),(213,.58,.76,.02,435),(195,.58,.78,.015,435),(136,1.12,1.26,.02,435),(151,.95,1.05,.025,435),(28,.28,.42,.02,435)]

# ---------- panel (d) ----------
D_OUT = [(-2.80,4.27),(-2.20,4.24),(-1.88,4.18),(-1.16,4.00),(-0.80,4.00),(-0.44,3.90),(-0.20,3.75),(0.20,3.75),(0.36,3.58),(1.08,3.45),(1.36,3.50),(1.84,3.30),(2.20,3.26),(2.48,3.03),(2.52,2.73),(2.66,2.63),(2.66,2.12),(2.75,1.99),(2.75,1.76),(2.92,1.45),(2.87,1.09),(3.04,0.55),(3.16,0.08),(3.22,-0.05),(3.16,-0.59),(3.26,-0.92),(3.16,-1.33),(3.23,-1.49),(3.16,-1.93),(3.23,-2.16),(2.84,-2.23),(2.64,-2.40),(2.36,-2.67),(1.92,-2.73),(1.44,-3.07),(1.40,-3.27),(0.72,-3.51),(0.44,-3.74),(0.28,-3.87),(0.0,-4.01),(-0.60,-4.34),(-0.92,-4.41),(-1.96,-4.68),(-2.04,-4.88),(-2.68,-4.91),(-2.72,-5.01),(-3.16,-5.05),(-3.20,-5.18),(-3.60,-5.15),(-3.76,-5.42),(-4.12,-5.35),(-4.28,-5.48),(-4.64,-5.38),(-4.84,-5.62),(-5.24,-5.48),(-5.52,-5.72),(-5.76,-5.55),(-6.04,-5.65),(-6.49,-5.42),(-7.49,-3.94),(-8.49,-2.87),(-8.45,-1.86),(-8.57,-0.99),(-8.46,-0.59),(-8.49,0.01),(-8.63,0.35),(-8.55,1.29),(-8.63,1.76),(-8.30,1.70),(-8.05,2.06),(-7.73,2.01),(-7.45,2.36),(-7.09,2.28),(-6.81,2.57),(-6.65,2.53),(-6.37,2.79),(-6.20,2.73),(-5.90,2.96),(-5.72,2.92),(-4.84,3.47),(-4.68,3.40),(-4.24,3.73),(-3.80,3.87),(-3.36,4.12)]
D_PATCHES = [
 (415,[(-4.92,3.37),(-4.68,3.35),(-3.56,3.53),(-2.64,3.78),(-2.28,3.40),(-2.12,2.76),(-1.80,2.29),(-1.20,2.26),(-1.16,2.02),(-1.36,1.72),(-0.80,1.52),(-0.92,1.75),(-0.60,2.49),(-0.48,2.89),(-0.64,3.04),(-1.24,3.23),(-1.88,3.97),(-1.88,4.18),(-2.20,4.24),(-2.80,4.27),(-3.36,4.12),(-3.80,3.87),(-4.24,3.73),(-4.68,3.40)]),
 (415,[(-0.32,2.49),(-0.24,2.59),(0.32,3.06),(0.96,2.93),(1.32,2.49),(1.44,2.16),(1.52,1.86),(1.28,1.82),(1.08,1.69),(0.96,2.02),(0.52,2.39),(0.32,1.69),(0.40,1.29),(0.16,0.92),(0.08,1.62),(-0.24,1.62),(-0.40,1.82)]),
 (415,[(-4.20,1.82),(-4.08,2.06),(-3.76,2.26),(-3.52,2.06),(-3.28,1.79),(-3.28,1.61),(-3.60,1.66),(-3.80,1.92),(-4.08,1.62)]),
 (415,[(-2.72,1.99),(-2.32,2.53),(-2.06,2.36),(-2.32,1.86),(-2.28,1.62),(-2.56,1.62)]),
 (415,[(-5.16,1.32),(-4.80,1.59),(-4.80,1.35),(-4.96,1.09),(-5.16,0.95)]),
 (415,[(-4.64,0.68),(-4.48,1.02),(-4.04,0.42),(-4.24,0.15),(-4.52,0.42)]),
 (415,[(-6.16,0.58),(-6.00,0.62),(-5.88,0.78),(-5.76,0.55),(-6.04,0.21),(-6.08,-0.05)]),
 (415,[(-4.84,0.01),(-4.72,0.32),(-4.56,-0.05),(-4.76,-0.12)]),
 (415,[(-5.32,0.28),(-5.22,0.32),(-5.16,0.11),(-5.26,0.09)]),
 (415,[(-5.44,0.82),(-5.32,0.85),(-5.26,0.76),(-5.39,0.72)]),
 (415,[(-3.08,0.35),(-2.80,0.55),(-2.56,0.35),(-2.60,0.15),(-2.84,0.11)]),
 (415,[(-3.28,0.65),(-3.12,0.72),(-3.08,0.55),(-3.20,0.55)]),
 (415,[(-2.38,0.68),(-2.28,0.70),(-1.98,0.52),(-2.12,0.48)]),
 (415,[(-3.58,1.12),(-3.40,1.15),(-3.40,0.95),(-3.48,0.92)]),
 (415,[(-2.86,-0.32),(-2.68,-0.19),(-2.56,-0.36),(-2.72,-0.49)]),
 (415,[(-3.44,-0.56),(-3.32,-0.49),(-3.26,-0.66),(-3.36,-0.67)]),
 (415,[(-2.56,-0.86),(-2.22,-0.71),(-2.40,-0.82)]),
 (415,[(-3.80,-1.03),(-3.60,-1.01),(-3.48,-1.21),(-3.72,-1.25)]),
 (415,[(-2.60,-1.19),(-2.48,-1.07),(-2.38,-1.23)]),
 (415,[(-6.14,-1.23),(-5.92,-1.33),(-5.96,-1.43),(-6.12,-1.49)]),
 (415,[(-5.24,-1.88),(-4.80,-1.90),(-4.88,-2.10),(-5.24,-2.17)]),
 (415,[(-4.84,-2.47),(-4.72,-2.47),(-4.80,-2.57)]),
 (415,[(-4.12,-2.60),(-4.04,-2.60),(-4.00,-2.80)]),
 (415,[(-5.24,-3.00),(-5.18,-3.00),(-5.14,-3.17)]),
 (415,[(-2.60,-3.27),(-2.48,-3.17),(-2.56,-3.37)]),
 (415,[(-1.44,-3.77),(-1.28,-3.51),(-1.24,-4.05),(-0.76,-4.34),(-0.92,-4.41),(-1.96,-4.68),(-2.08,-4.61),(-1.84,-4.21),(-1.44,-4.14)]),
 (415,[(-0.56,-3.81),(-0.48,-3.47),(-0.24,-3.24),(-0.24,-3.47),(-0.44,-3.81)]),
 (415,[(-0.84,-3.27),(-0.76,-3.10),(-0.52,-3.34),(-0.72,-3.37)]),
 (415,[(0.64,-2.60),(0.80,-2.57),(0.88,-2.77),(1.08,-2.60),(1.32,-2.73),(1.20,-2.90),(0.64,-2.97)]),
 (415,[(1.00,-2.10),(1.24,-2.13),(1.20,-2.43),(0.96,-2.40)]),
 (415,[(0.48,-1.66),(0.72,-1.66),(0.72,-2.03),(0.52,-2.40),(0.36,-2.37),(0.52,-2.07)]),
 (415,[(1.00,-1.76),(1.24,-1.73),(1.44,-2.03),(1.72,-1.93),(1.68,-2.20),(1.48,-2.13)]),
 (415,[(1.96,-2.33),(2.04,-2.10),(2.24,-2.27),(2.64,-2.40),(2.28,-2.67),(1.92,-2.73)]),
 (415,[(2.08,-1.93),(2.20,-1.90),(2.28,-2.13),(2.08,-2.10)]),
 (415,[(2.76,-1.06),(3.08,-0.39),(3.20,-0.19),(3.16,-0.59),(3.26,-0.92),(3.16,-1.33),(3.23,-1.49),(3.00,-1.63),(2.88,-1.26)]),
 (415,[(-1.68,-0.12),(-1.53,0.02),(-1.19,0.12),(-0.90,0.02),(-0.66,-0.02),(-0.46,-0.02),(-0.56,-0.22),(-0.90,-0.22),(-1.00,-0.46),(-1.44,-0.49),(-1.39,-0.27)]),
 (410,[(-1.28,-0.17),(-1.17,-0.11),(-1.06,-0.19),(-1.18,-0.28)]),
 (415,[(0.73,0.66),(1.14,0.90),(1.29,0.95),(1.46,0.65),(1.24,0.51),(0.95,0.34),(0.75,0.17),(0.22,0.07),(0.41,0.19),(0.85,0.41),(0.95,0.51)]),
 (410,[(0.90,0.61),(1.05,0.68),(1.12,0.58),(1.00,0.51)]),
 (415,[(1.07,0.05),(1.22,0.19),(1.36,0.21),(1.24,0.05)]),
 (415,[(-0.66,1.31),(-0.56,1.36),(-0.39,1.24),(-0.41,1.02),(-0.56,0.97),(-0.66,1.09)]),
 (415,[(-2.02,1.24),(-1.92,1.44),(-1.70,1.29),(-1.58,0.90),(-1.78,0.90),(-1.97,1.09)]),
 (415,[(-1.46,1.29),(-0.97,1.24),(-0.95,1.05),(-1.14,1.09)]),
 (415,[(-2.29,1.31),(-2.14,1.34),(-2.08,1.15),(-2.29,1.15)]),
 (415,[(-1.56,0.80),(-1.29,0.79),(-1.31,0.66),(-1.56,0.68)]),
 (415,[(-1.09,0.63),(-1.00,0.66),(-0.88,0.44),(-0.95,0.41)]),
 (415,[(-2.34,0.66),(-2.19,0.71),(-1.99,0.51),(-2.19,0.46)]),
 (415,[(-0.88,0.27),(-0.75,0.29),(-0.73,0.19),(-0.85,0.19)]),
 (415,[(-0.66,0.29),(-0.32,0.24),(-0.12,0.12),(-0.32,0.15)]),
 (415,[(-0.34,1.05),(-0.27,1.05),(-0.07,0.51),(-0.22,0.51)]),
 (415,[(-1.14,-0.75),(-0.95,-0.73),(-0.97,-0.95),(-1.07,-0.95)]),
 (415,[(-1.63,-0.66),(-1.56,-0.58),(-1.46,-0.85),(-1.63,-0.97)]),
 (415,[(-2.12,-1.14),(-1.87,-0.80),(-1.82,-0.90),(-2.02,-1.27)]),
 (415,[(-0.85,-0.95),(-0.54,-0.71),(-0.61,-1.09),(-0.80,-1.19)]),
 (415,[(0.22,-1.39),(0.29,-1.34),(0.36,-1.92),(0.24,-1.92)]),
 (415,[(0.97,-1.73),(1.29,-1.78),(1.46,-2.07),(1.68,-1.90),(1.73,-2.17),(1.46,-2.26),(0.99,-1.97)]),
 (415,[(0.46,-1.68),(0.71,-1.73),(0.75,-1.97),(0.56,-2.17),(0.71,-2.26),(0.51,-2.41),(0.36,-2.31),(0.46,-2.02)]),
 (415,[(0.95,-2.12),(1.22,-2.17),(1.19,-2.46),(0.95,-2.41)]),
 (415,[(-0.95,-1.63),(-0.85,-1.53),(-0.63,-1.75),(-0.80,-1.75)]),
 (415,[(-0.44,-1.73),(-0.29,-1.56),(-0.27,-1.78),(-0.39,-1.80)]),
 (415,[(-1.31,-1.75),(-1.17,-1.75),(-1.12,-1.90),(-1.24,-1.90)]),
 (415,[(-1.43,-2.46),(-1.26,-2.34),(-1.26,-2.60),(-1.41,-2.58)]),
 (405,[(-6.33,-3.88),(-6.17,-3.81),(-5.93,-3.91),(-5.65,-4.24),(-5.37,-4.41),(-5.00,-4.27),(-4.84,-3.98),(-4.52,-4.45),(-4.32,-4.75),(-4.36,-5.08),(-3.92,-5.08),(-3.80,-5.42),(-4.12,-5.35),(-4.28,-5.48),(-4.64,-5.38),(-4.84,-5.62),(-5.24,-5.48),(-5.52,-5.72),(-5.76,-5.55),(-5.96,-5.58),(-6.16,-5.01)]),
 (405,[(-4.08,-4.05),(-3.92,-3.47),(-3.56,-3.27),(-3.36,-2.83),(-3.08,-2.60),(-2.88,-2.80),(-2.80,-3.37),(-3.08,-3.34),(-3.16,-3.70),(-3.04,-3.94),(-2.60,-3.98),(-2.80,-3.61),(-2.56,-3.61),(-2.28,-3.84),(-2.28,-3.37),(-2.04,-3.54),(-2.16,-4.14),(-2.48,-4.34),(-2.72,-4.34),(-2.96,-4.14),(-3.24,-4.07),(-3.36,-4.44),(-3.92,-4.34),(-4.12,-4.21)]),
 (405,[(-3.40,-2.57),(-3.28,-2.47),(-3.16,-2.53),(-3.04,-2.60),(-3.08,-2.83)]),
 (405,[(-2.60,-2.10),(-2.44,-2.10),(-2.44,-2.43),(-2.60,-2.47)]),
 (405,[(-4.60,-2.77),(-4.40,-2.60),(-4.30,-2.70),(-4.56,-2.80)]),
 (405,[(-3.80,-2.53),(-3.68,-2.53),(-3.60,-2.77),(-3.80,-2.83)]),
 (405,[(-4.20,-3.04),(-4.04,-3.00),(-4.04,-3.27),(-4.20,-3.20)]),
 (405,[(-4.48,-3.47),(-4.24,-3.64),(-4.22,-3.81),(-4.40,-3.77)]),
 (405,[(-5.00,-1.61),(-4.78,-1.61),(-4.96,-1.72)]),
 (405,[(-2.28,-2.50),(-2.16,-2.50),(-2.14,-2.63),(-2.28,-2.63)]),
 (405,[(2.44,-0.42),(2.94,-0.15),(2.82,-0.66)]),
 (405,[(2.16,1.22),(2.27,1.29),(2.24,1.09),(2.15,0.92)]),
 (405,[(1.68,-0.39),(1.84,-0.32),(1.84,-0.66),(1.68,-0.69)]),
 (405,[(0.52,-3.61),(0.72,-3.54),(0.60,-3.66)]),
]
D_BLOBS = [(1.02,-0.27,.05,.03,405),(1.19,1.22,.07,.03,405),(-0.51,0.12,.05,.04,405),(-1.35,0.25,.04,.04,405),(-2.07,0.78,.03,.03,405),(2.09,-0.70,.03,.03,405),(2.12,-1.07,.04,.07,405),(0.80,0.88,.03,.04,405),(-0.27,-2.75,.03,.08,405),(-1.14,-2.08,.03,.03,405),(-0.73,-2.40,.03,.05,405),(-2.72,-1.75,.04,.05,405)]
D_SPIKES = [(15,.3,.9,.05,415),(35,.2,1.2,.08,415),(50,.2,.7,.05,415),(60,.3,1.0,.06,415),(80,.2,1.1,.05,415),(95,.2,1.2,.04,415),(105,.2,1.0,.06,415),(115,.2,1.2,.06,415),(125,.2,1.0,.05,415),(140,.2,1.5,.07,415),(150,.3,1.5,.07,415),(160,.2,1.2,.07,415),(170,.3,1.3,.06,415),(180,.2,1.6,.04,415),(190,.3,1.4,.06,415),(200,.2,1.4,.06,415),(210,.3,1.2,.06,415),(220,.2,.9,.05,415),(235,.2,.8,.05,415),(250,.2,.9,.06,415),(262,.2,.6,.05,415),(285,.2,.8,.06,415),(300,.2,.9,.05,415),(318,.2,1.2,.07,415),(330,.3,1.1,.07,415),(345,.2,1.0,.06,415),(355,.2,.7,.05,415),(160,1.4,1.8,.07,415),(170,1.7,2.1,.08,415),(175,1.45,1.65,.05,415),(185,1.55,1.75,.05,415),
 (140,.9,1.25,.05,420),(95,.3,.8,.03,420),(200,.4,.8,.03,420),(60,1.0,1.3,.04,420),(170,.3,.8,.03,420),(259,.2,.5,.04,425),(259,.26,.38,.025,435),(247,.12,.2,.02,435)]

PANELS = [("(a)", 415, A_OUT, A_PATCHES, A_BLOBS, A_SPIKES),
          ("(b)", 410, B_OUT, B_PATCHES, B_BLOBS, B_SPIKES),
          ("(c)", 410, C_OUT, C_PATCHES, C_BLOBS, C_SPIKES),
          ("(d)", 410, D_OUT, D_PATCHES, D_BLOBS, D_SPIKES)]

UNIT = 68.5
W, H = 1593, 1585
XDOM = [-W / 2 / UNIT, W / 2 / UNIT]
YDOM = [-H / 2 / UNIT, H / 2 / UNIT]
xs = alt.Scale(domain=XDOM, nice=False, zero=False)
ys = alt.Scale(domain=YDOM, nice=False, zero=False)
fill_scale = alt.Scale(domain=LEVELS, range=COLORS)


def pol(a, r):
    t = math.radians(a)
    return r * math.sin(t), r * math.cos(t)


def shape_rows(base, outline, patches, blobs, spikes):
    shapes = [(base, outline)] + list(patches)
    for x, y, rx, ry, lev in blobs:
        shapes.append((lev, [(x - rx, y), (x, y + ry), (x + rx, y), (x, y - ry)]))
    for lev in sorted({s[4] for s in spikes}):
        for a, r0, r1, hw, l in spikes:
            if l != lev:
                continue
            t = math.radians(a)
            mx, my = pol(a, (r0 + r1) / 2)
            nx, ny = math.cos(t) * hw, -math.sin(t) * hw
            shapes.append((l, [pol(a, r0), (mx + nx, my + ny), pol(a, r1), (mx - nx, my - ny)]))
    rows = []
    for sid, (lev, pts) in enumerate(shapes):
        for i, (x, y) in enumerate(pts):
            rows.append({"sid": sid, "i": i, "level": lev, "x": x, "y": y})
    return pd.DataFrame(rows)


def ring_rows(radii):
    rows = []
    for r in radii:
        for a in range(0, 360, 2):
            x, y = pol(a, r)
            rows.append({"r": r, "a": a, "x": x, "y": y})
    return pd.DataFrame(rows)


spoke_df = pd.DataFrame([dict(a=a, x=0.0, y=0.0, x2=pol(a, 10)[0], y2=pol(a, 10)[1]) for a in SPOKES])
angle_df = pd.DataFrame([dict(x=pol(a, 10.9)[0], y=pol(a, 10.9)[1], t=f"{a}°") for a in SPOKES])
radial_df = pd.DataFrame([dict(x=0.07, y=r + 0.34, t=str(r)) for r in RINGS + [10]])


def panel(tag, base, outline, patches, blobs, spikes):
    X = alt.X("x:Q", scale=xs, axis=None)
    Y = alt.Y("y:Q", scale=ys, axis=None)
    contours = alt.Chart(shape_rows(base, outline, patches, blobs, spikes)).mark_line(
        interpolate="linear-closed", strokeWidth=0, strokeOpacity=0, clip=False
    ).encode(x=X, y=Y, detail="sid:N", order="i:Q",
             fill=alt.Fill("level:O", scale=fill_scale, legend=None))
    rings = alt.Chart(ring_rows(RINGS)).mark_line(
        interpolate="linear-closed", color="#B0B0B0", strokeWidth=3.3
    ).encode(x=X, y=Y, detail="r:N", order="a:Q")
    spokes = alt.Chart(spoke_df).mark_rule(color="#B0B0B0", strokeWidth=3.3).encode(
        x=X, y=Y, x2="x2:Q", y2="y2:Q")
    frame = alt.Chart(ring_rows([10])).mark_line(
        interpolate="linear-closed", color="black", strokeWidth=3.4
    ).encode(x=X, y=Y, detail="r:N", order="a:Q")
    alabels = alt.Chart(angle_df).mark_text(
        font=FONT, fontSize=43, color="black", align="center", baseline="middle"
    ).encode(x=X, y=Y, text="t:N")
    rlabels = alt.Chart(radial_df).mark_text(
        font=FONT, fontSize=43, color="black", align="left", baseline="middle"
    ).encode(x=X, y=Y, text="t:N")
    title = alt.Chart(pd.DataFrame([dict(x=-9.96, y=10.66, t=tag)])).mark_text(
        font=FONT, fontSize=70, color="black", align="left", baseline="middle"
    ).encode(x=X, y=Y, text="t:N")
    return alt.layer(contours, rings, spokes, frame, alabels, rlabels, title).properties(width=W, height=H)


charts = [panel(*p) for p in PANELS]
grid = alt.vconcat(alt.hconcat(charts[0], charts[1], spacing=0),
                   alt.hconcat(charts[2], charts[3], spacing=0), spacing=0)

TOP = 50.5
cb_y = alt.Scale(domain=[390, 465], range=[2817 - TOP, 454 - TOP], nice=False, zero=False)
cb_axis = alt.Axis(
    orient="right", values=CBAR_TICKS, domain=False, grid=False, tickColor="black", tickWidth=3,
    tickSize=14, labelFont=FONT, labelFontSize=43, labelColor="black", labelPadding=16,
    title="CO₂ (ppm)", titleFont=FONT, titleFontSize=45, titleFontWeight="normal", titleColor="black",
    titleAngle=270, titleX=135, titleBaseline="middle")
cb_df = pd.DataFrame({"lo": LEVELS, "hi": [v + 5 for v in LEVELS], "level": LEVELS})
bands = alt.Chart(cb_df).mark_rect().encode(
    x=alt.value(0), x2=alt.value(121),
    y=alt.Y("lo:Q", scale=cb_y, axis=cb_axis),
    y2="hi:Q",
    fill=alt.Fill("level:O", scale=fill_scale, legend=None))
border = alt.Chart(pd.DataFrame({"lo": [390], "hi": [465]})).mark_rect(
    stroke="black", strokeWidth=3.4, fillOpacity=0
).encode(x=alt.value(0), x2=alt.value(121),
         y=alt.Y("lo:Q", scale=cb_y, axis=cb_axis), y2="hi:Q")
cbar = alt.layer(bands, border).properties(width=121, height=2 * H)

chart = alt.hconcat(grid, cbar, spacing=90).properties(
    padding={"left": 54, "top": TOP - 8, "right": 5, "bottom": 5}
).resolve_scale(fill="independent").configure_view(strokeWidth=0)

chart.save("out.html", embed_options={"renderer": "svg", "actions": False})
